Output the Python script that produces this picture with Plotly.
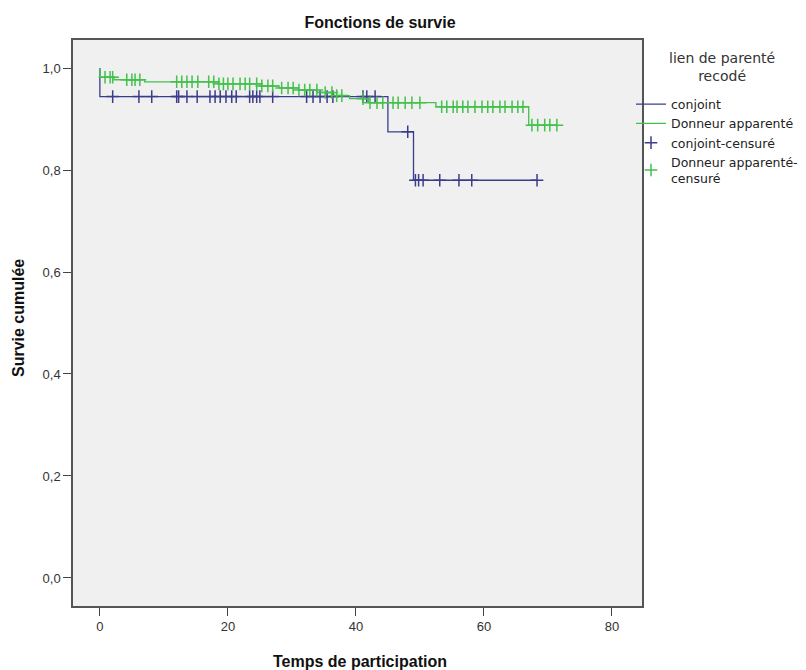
import plotly.graph_objects as go

# Kaplan-Meier step data (time, cumulative survival)
conj_t = [0, 0, 45, 49, 68.3]
conj_s = [1.0, 0.944, 0.875, 0.78, 0.78]

donn_t = [0, 0, 2.2, 7, 18.5, 25, 28, 31, 34, 36.5, 39, 42, 52.5, 67, 71.4]
donn_s = [1.0, 0.982, 0.977, 0.973, 0.969, 0.965, 0.961, 0.957, 0.952, 0.946,
          0.940, 0.932, 0.924, 0.888, 0.888]

# Censored observation times
conj_cens_t = [2, 6.1, 8.1, 12, 12.3, 13.6, 15.2, 17.2, 18, 18.8, 19.7, 20.6, 21.3,
               23.4, 23.9, 24.5, 25, 27, 32.3, 33.3, 34.4, 35.5, 36.4, 41.1, 41.7, 43,
               48.1, 49.3, 49.8, 50.5, 53.1, 56.1, 58.1, 68.3]
donn_cens_t = [0.8, 1.6, 2.0, 4.2, 5.0, 5.5, 6.25, 12, 12.8, 13.6, 14.4, 15.3, 17,
               17.8, 18.6, 19.3, 20, 20.8, 21.9, 22.7, 23.4, 24.5, 25.3, 26.25, 27,
               28.4, 29.4, 30.2, 31.1, 32, 32.8, 33.9, 35.2, 36.25, 37, 37.8, 41.1,
               42.2, 43.3, 44.2, 45.8, 46.6, 47.7, 48.75, 50, 53.4, 54.2, 55.2, 55.8,
               56.7, 57.5, 58.6, 59.7, 60.6, 61.4, 62.5, 63.3, 64.4, 65.3, 66.1,
               67.5, 68.4, 69.5, 70.3, 71.4]

x_ticks = [0, 20, 40, 60, 80]
y_ticks = [0.0, 0.2, 0.4, 0.6, 0.8, 1.0]

BLUE = "#3c3c8c"
GREEN = "#44c04c"

PLOT_L, PLOT_R, PLOT_T, PLOT_B = 73, 642, 40, 606
PW, PH = PLOT_R - PLOT_L, PLOT_B - PLOT_T


def px_x(p):
    return (p - PLOT_L) / PW


def px_y(p):
    return (PLOT_B - p) / PH


def surv_at(ts, ss, t):
    val = ss[0]
    for ti, si in zip(ts, ss):
        if ti <= t:
            val = si
    return val


conj_cens_s = [surv_at(conj_t, conj_s, t) for t in conj_cens_t]
donn_cens_s = [surv_at(donn_t, donn_s, t) for t in donn_cens_t]

fig = go.Figure()
fig.add_trace(go.Scatter(x=conj_t, y=conj_s, mode="lines", line=dict(color=BLUE, width=1.3, shape="hv"),
                         name="conjoint"))
fig.add_trace(go.Scatter(x=donn_t, y=donn_s, mode="lines", line=dict(color=GREEN, width=1.3, shape="hv"),
                         name="Donneur apparenté"))
fig.add_trace(go.Scatter(x=conj_cens_t, y=conj_cens_s, mode="markers",
                         marker=dict(symbol="cross-thin", size=9, line=dict(color=BLUE, width=1.5)),
                         name="conjoint-censuré"))
fig.add_trace(go.Scatter(x=donn_cens_t, y=donn_cens_s, mode="markers",
                         marker=dict(symbol="cross-thin", size=9, line=dict(color=GREEN, width=1.5)),
                         name="Donneur apparenté-<br>censuré"))

fig.update_layout(
    width=806, height=670,
    margin=dict(l=PLOT_L, r=806 - PLOT_R, t=PLOT_T, b=670 - PLOT_B, autoexpand=False),
    paper_bgcolor="white",
    plot_bgcolor="#f0f0f0",
    separators=",.",
    font=dict(family="Liberation Sans, Arial, sans-serif", size=12, color="#222"),
    title=dict(text="<b>Fonctions de survie</b>", x=380 / 806,
               xanchor="center", y=1 - 22 / 670, yanchor="middle",
               font=dict(size=16, color="#111")),
    legend=dict(x=px_x(631), xanchor="left", y=0.9125, yanchor="top",
                bgcolor="rgba(0,0,0,0)",
                font=dict(family="DejaVu Sans, sans-serif", size=12.5, color="#222"),
                tracegroupgap=0, itemwidth=30),
    showlegend=True,
    annotations=[
        dict(text="lien de parenté<br>recodé", x=px_x(722), y=px_y(67), xref="paper", yref="paper",
             xanchor="center", yanchor="middle", align="center", showarrow=False,
             font=dict(family="DejaVu Sans, sans-serif", size=14, color="#333")),
        dict(text="<b>Temps de participation</b>", x=px_x(360), y=px_y(661), xref="paper", yref="paper",
             xanchor="center", yanchor="middle", showarrow=False,
             font=dict(size=16, color="#111")),
        dict(text="<b>Survie cumulée</b>", x=px_x(18), y=px_y(318), xref="paper", yref="paper",
             xanchor="center", yanchor="middle", showarrow=False, textangle=-90,
             font=dict(size=16, color="#111")),
    ],
)
fig.update_xaxes(range=[-4.2, 84.7], tickvals=x_ticks, ticks="outside", ticklen=8,
                 tickcolor="#444", showgrid=False, zeroline=False, showline=True,
                 linecolor="#555", linewidth=1.5, mirror=True, automargin=False,
                 tickfont=dict(size=13, color="#333"))
fig.update_yaxes(range=[-0.055, 1.055], tickvals=y_ticks, tickformat=".1f", ticks="outside",
                 ticklen=8, tickcolor="#444", showgrid=False, zeroline=False, showline=True,
                 linecolor="#555", linewidth=1.5, mirror=True, automargin=False,
                 tickfont=dict(size=13, color="#333"))

fig.write_html("out.html")
